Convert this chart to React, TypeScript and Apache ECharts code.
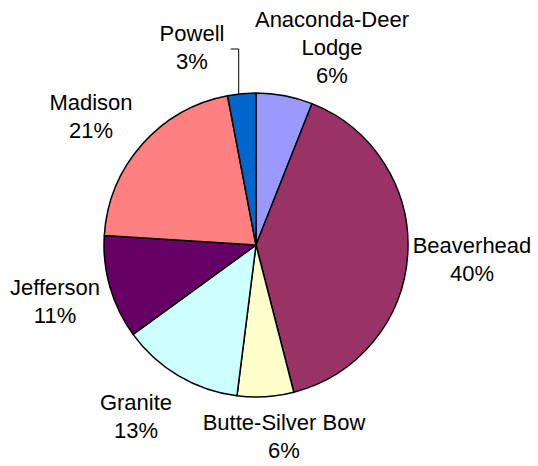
import React, { useEffect, useRef } from "react";
import * as echarts from "echarts";

const categories = [
  "Anaconda-Deer Lodge",
  "Beaverhead",
  "Butte-Silver Bow",
  "Granite",
  "Jefferson",
  "Madison",
  "Powell",
];
const values = [6, 40, 6, 13, 11, 21, 3];
const colors = ["#9999FF", "#993366", "#FFFFCC", "#CCFFFF", "#660066", "#FF8080", "#0066CC"];

// label block centres (layout only)
const labelCenters: [number, number][] = [
  [332, 47],
  [472, 259],
  [284, 436],
  [136, 416],
  [55, 301],
  [91, 116],
  [192, 47],
];

export default function App() {
  const ref = useRef<HTMLDivElement>(null);
  useEffect(() => {
    if (!ref.current) return;
    const chart = echarts.init(ref.current, null, { renderer: "svg" });
    chart.setOption({
      animation: false,
      backgroundColor: "#ffffff",
      series: [
        {
          type: "pie",
          center: [256, 245],
          radius: [0, 152],
          startAngle: 90,
          clockwise: true,
          avoidLabelOverlap: false,
          data: categories.map((c, i) => ({
            name: c,
            value: values[i],
            itemStyle: { color: colors[i] },
            labelLine: { show: c === "Powell" },
          })),
          itemStyle: { borderColor: "#000000", borderWidth: 1.5 },
          label: {
            show: true,
            position: "outside",
            formatter: (p: any) =>
              (p.name === "Anaconda-Deer Lodge" ? "Anaconda-Deer\nLodge" : p.name) + "\n" + Math.round(p.percent) + "%",
            fontFamily: "Liberation Sans, Arial, sans-serif",
            fontSize: 22,
            lineHeight: 28,
            color: "#000000",
            align: "center",
          },
          labelLine: {
            show: false,
            length: 10,
            length2: 10,
            lineStyle: { color: "#000000", width: 1 },
          },
          emphasis: { disabled: true },
          labelLayout: (params: any) => {
            const i = params.dataIndex;
            const [x, y] = labelCenters[i];
            const res: any = { x, y, align: "center", verticalAlign: "middle" };
            if (categories[i] === "Powell" && params.labelLinePoints) {
              const p0 = params.labelLinePoints[0];
              res.labelLinePoints = [
                [p0[0] - 3, p0[1] + 2],
                [p0[0] - 3, 49],
                [p0[0] - 11, 49],
              ];
            }
            return res;
          },
        },
      ],
    });
    return () => chart.dispose();
  }, []);
  return (
    <div
      ref={ref}
      style={{ position: "absolute", left: 0, top: 0, width: 538, height: 466 }}
    />
  );
}
